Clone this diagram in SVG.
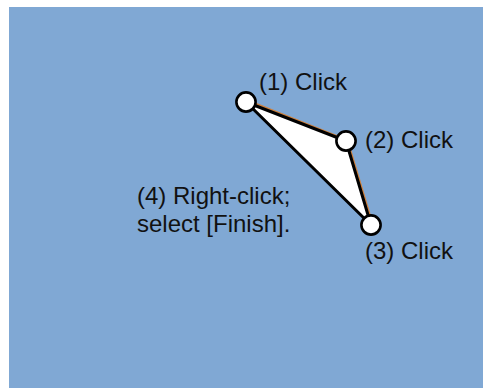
<svg xmlns="http://www.w3.org/2000/svg" width="483" height="388" viewBox="0 0 483 388">
<style>
.lbl{font-family:"Liberation Sans",Arial,sans-serif;font-size:24px;fill:#111}
.pt{fill:#fff;stroke:#000;stroke-width:2.6}
.edge{fill:none;stroke:#000;stroke-width:3;stroke-linejoin:round}
.shadow{fill:none;stroke:#d0803a;stroke-width:1.6}
</style>
<rect x="0" y="0" width="483" height="388" fill="#fff"/>
<rect id="canvas" x="9" y="7" width="474" height="381" fill="#80a8d4"/>
<g id="connectors">
<polygon points="246,102 346,141 371,225" fill="#fff" stroke="none"/>
<polyline class="shadow" points="247,100 347.5,140 373,225"/>
<polygon class="edge" points="246,102 346,141 371,225"/>
</g>
<g id="p1"><circle class="pt" cx="246" cy="102" r="9.6"/><text class="lbl" x="259" y="90">(1) Click</text></g>
<g id="p2"><circle class="pt" cx="346" cy="141" r="9.6"/><text class="lbl" x="365" y="148">(2) Click</text></g>
<g id="p3"><circle class="pt" cx="371" cy="225" r="9.6"/><text class="lbl" x="365" y="259">(3) Click</text></g>
<g id="finish"><text class="lbl" x="137" y="204">(4) Right-click;</text><text class="lbl" x="137" y="232">select [Finish].</text></g>
</svg>
